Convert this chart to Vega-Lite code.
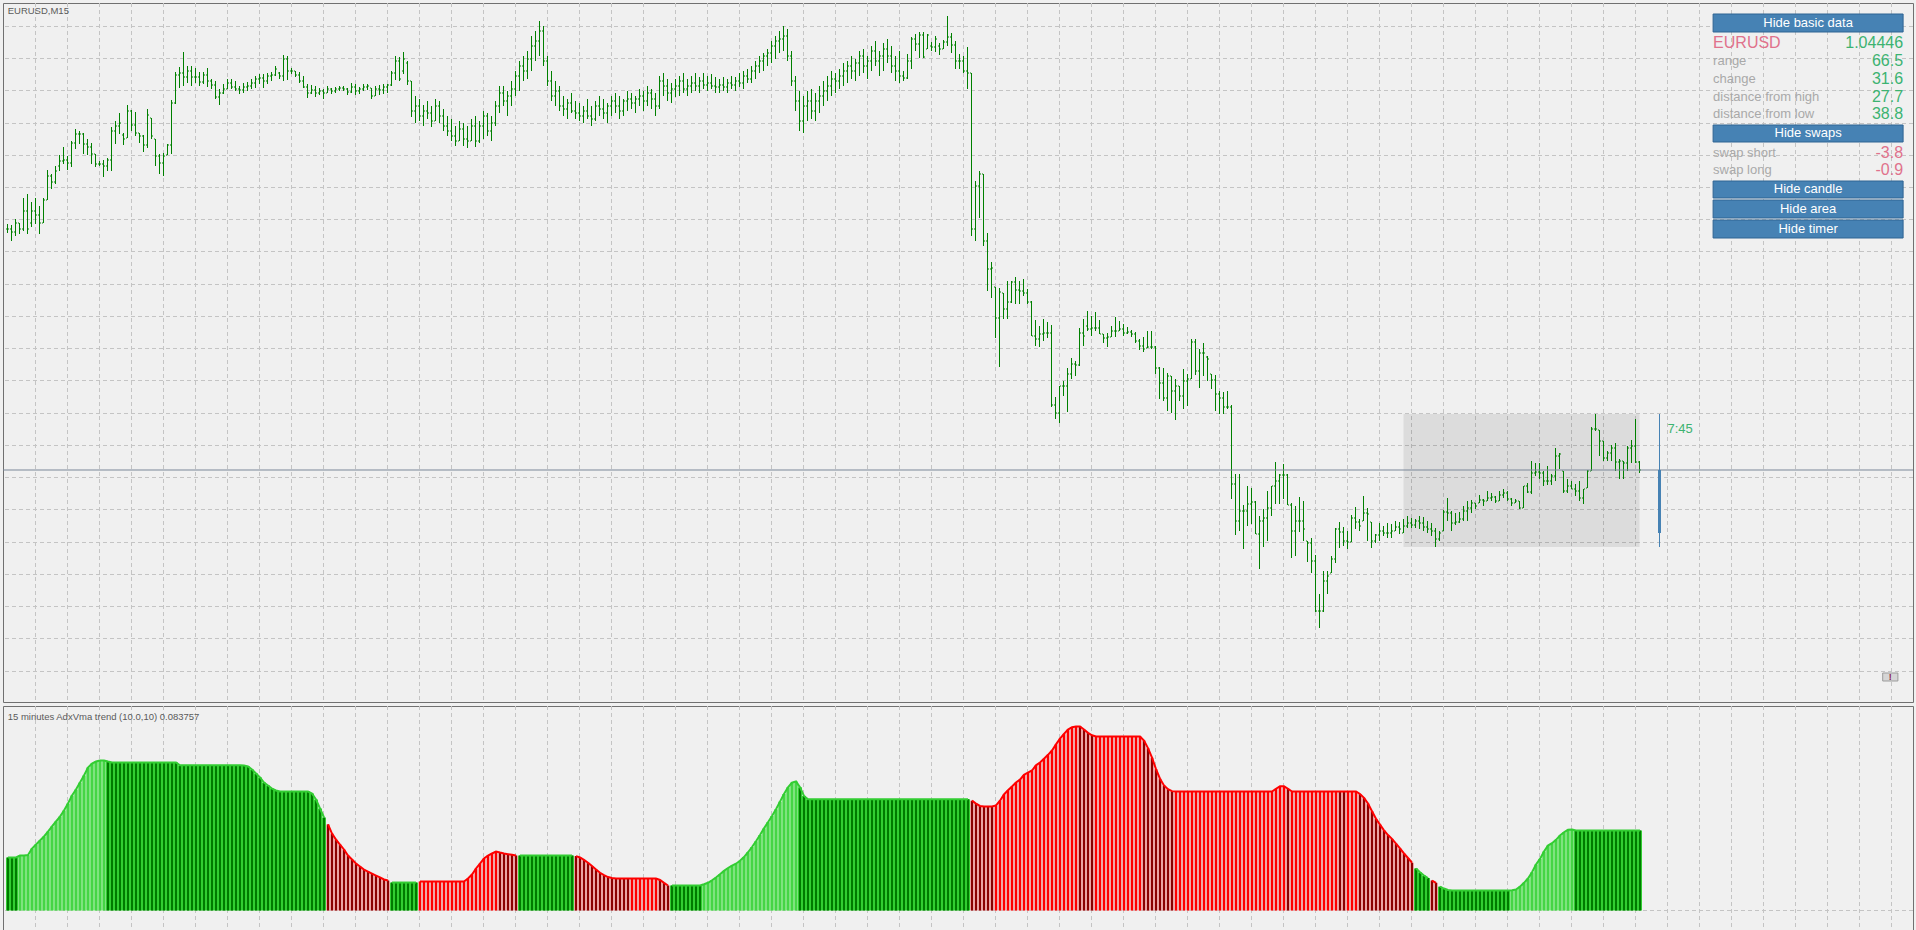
{
"$schema": "https://vega.github.io/schema/vega-lite/v6.json",
"background": "#f0f0f0",
"padding": {"left": 2, "top": 2, "right": 4, "bottom": 3},
"spacing": 2,
"config": {
  "view": {"stroke": "#707070"},
  "text": {"font": "Liberation Sans"}
},
"datasets": {
"gx": [{"i":7},{"i":15},{"i":23},{"i":31},{"i":39},{"i":47},{"i":55},{"i":63},{"i":71},{"i":79},{"i":87},{"i":95},{"i":103},{"i":111},{"i":119},{"i":127},{"i":135},{"i":143},{"i":151},{"i":159},{"i":167},{"i":175},{"i":183},{"i":191},{"i":199},{"i":207},{"i":215},{"i":223},{"i":231},{"i":239},{"i":247},{"i":255},{"i":263},{"i":271},{"i":279},{"i":287},{"i":295},{"i":303},{"i":311},{"i":319},{"i":327},{"i":335},{"i":343},{"i":351},{"i":359},{"i":367},{"i":375},{"i":383},{"i":391},{"i":399},{"i":407},{"i":415},{"i":423},{"i":431},{"i":439},{"i":447},{"i":455},{"i":463},{"i":471}],
"gy": [{"p":1.066635},{"p":1.065035},{"p":1.063435},{"p":1.061785},{"p":1.060185},{"p":1.058585},{"p":1.056985},{"p":1.055385},{"p":1.053735},{"p":1.052135},{"p":1.050535},{"p":1.048935},{"p":1.047285},{"p":1.045685},{"p":1.044085},{"p":1.042485},{"p":1.040835},{"p":1.039235},{"p":1.037635},{"p":1.036035},{"p":1.034385}],
"gz": [{"v":0}],
"day": [{"start": 349, "end": 408, "o": 1.04131, "h": 1.04726, "l": 1.04061, "c": 1.04446}],
"bars": [
{"i":0,"o":1.05651,"h":1.05676,"l":1.05631,"c":1.05651},
{"i":1,"o":1.05651,"h":1.05671,"l":1.05591,"c":1.05636},
{"i":2,"o":1.05636,"h":1.05701,"l":1.05616,"c":1.05681},
{"i":3,"o":1.05681,"h":1.05681,"l":1.05626,"c":1.05651},
{"i":4,"o":1.05651,"h":1.05806,"l":1.05641,"c":1.05741},
{"i":5,"o":1.05741,"h":1.05826,"l":1.05626,"c":1.05651},
{"i":6,"o":1.05681,"h":1.05786,"l":1.05661,"c":1.05741},
{"i":7,"o":1.05741,"h":1.05806,"l":1.05676,"c":1.05721},
{"i":8,"o":1.05721,"h":1.05766,"l":1.05626,"c":1.05681},
{"i":9,"o":1.05681,"h":1.05806,"l":1.05681,"c":1.05796},
{"i":10,"o":1.05796,"h":1.05946,"l":1.05796,"c":1.05916},
{"i":11,"o":1.05916,"h":1.05926,"l":1.05851,"c":1.05886},
{"i":12,"o":1.05886,"h":1.05966,"l":1.05876,"c":1.05941},
{"i":13,"o":1.05966,"h":1.06021,"l":1.05941,"c":1.05991},
{"i":14,"o":1.05991,"h":1.06061,"l":1.05976,"c":1.05996},
{"i":15,"o":1.05996,"h":1.06016,"l":1.05946,"c":1.05981},
{"i":16,"o":1.05981,"h":1.06091,"l":1.05961,"c":1.06081},
{"i":17,"o":1.06081,"h":1.06151,"l":1.06051,"c":1.06126},
{"i":18,"o":1.06126,"h":1.06141,"l":1.06076,"c":1.06126},
{"i":19,"o":1.06126,"h":1.06131,"l":1.06026,"c":1.06076},
{"i":20,"o":1.06076,"h":1.06101,"l":1.06021,"c":1.06061},
{"i":21,"o":1.06061,"h":1.06081,"l":1.05976,"c":1.06026},
{"i":22,"o":1.06026,"h":1.06026,"l":1.05961,"c":1.05976},
{"i":23,"o":1.05976,"h":1.05991,"l":1.05966,"c":1.05976},
{"i":24,"o":1.05976,"h":1.05996,"l":1.05911,"c":1.05966},
{"i":25,"o":1.05966,"h":1.06006,"l":1.05941,"c":1.05996},
{"i":26,"o":1.05996,"h":1.06161,"l":1.05941,"c":1.06141},
{"i":27,"o":1.06141,"h":1.06191,"l":1.06076,"c":1.06166},
{"i":28,"o":1.06166,"h":1.06231,"l":1.06126,"c":1.06181},
{"i":29,"o":1.06121,"h":1.06131,"l":1.06071,"c":1.06101},
{"i":30,"o":1.06106,"h":1.06271,"l":1.06106,"c":1.06241},
{"i":31,"o":1.06241,"h":1.06246,"l":1.06141,"c":1.06171},
{"i":32,"o":1.06171,"h":1.06236,"l":1.06116,"c":1.06131},
{"i":33,"o":1.06131,"h":1.06131,"l":1.06081,"c":1.06116},
{"i":34,"o":1.06116,"h":1.06121,"l":1.06036,"c":1.06071},
{"i":35,"o":1.06071,"h":1.06251,"l":1.06056,"c":1.06221},
{"i":36,"o":1.06206,"h":1.06206,"l":1.06101,"c":1.06116},
{"i":37,"o":1.06101,"h":1.06101,"l":1.05966,"c":1.06016},
{"i":38,"o":1.06016,"h":1.06026,"l":1.05926,"c":1.05981},
{"i":39,"o":1.05981,"h":1.06031,"l":1.05916,"c":1.06016},
{"i":40,"o":1.06021,"h":1.06076,"l":1.06021,"c":1.06071},
{"i":41,"o":1.06071,"h":1.06296,"l":1.06026,"c":1.06281},
{"i":42,"o":1.06281,"h":1.06436,"l":1.06276,"c":1.06421},
{"i":43,"o":1.06421,"h":1.06461,"l":1.06356,"c":1.06431},
{"i":44,"o":1.06431,"h":1.06536,"l":1.06366,"c":1.06411},
{"i":45,"o":1.06411,"h":1.06466,"l":1.06381,"c":1.06441},
{"i":46,"o":1.06441,"h":1.06466,"l":1.06366,"c":1.06411},
{"i":47,"o":1.06411,"h":1.06456,"l":1.06381,"c":1.06411},
{"i":48,"o":1.06411,"h":1.06436,"l":1.06366,"c":1.06386},
{"i":49,"o":1.06386,"h":1.06436,"l":1.06376,"c":1.06421},
{"i":50,"o":1.06421,"h":1.06456,"l":1.06361,"c":1.06391},
{"i":51,"o":1.06391,"h":1.06401,"l":1.06351,"c":1.06371},
{"i":52,"o":1.06371,"h":1.06391,"l":1.06301,"c":1.06311},
{"i":53,"o":1.06311,"h":1.06351,"l":1.06271,"c":1.06331},
{"i":54,"o":1.06331,"h":1.06376,"l":1.06326,"c":1.06351},
{"i":55,"o":1.06351,"h":1.06401,"l":1.06351,"c":1.06381},
{"i":56,"o":1.06381,"h":1.06401,"l":1.06351,"c":1.06361},
{"i":57,"o":1.06361,"h":1.06391,"l":1.06341,"c":1.06351},
{"i":58,"o":1.06351,"h":1.06366,"l":1.06326,"c":1.06346},
{"i":59,"o":1.06346,"h":1.06381,"l":1.06331,"c":1.06361},
{"i":60,"o":1.06361,"h":1.06386,"l":1.06341,"c":1.06366},
{"i":61,"o":1.06366,"h":1.06401,"l":1.06351,"c":1.06381},
{"i":62,"o":1.06381,"h":1.06416,"l":1.06356,"c":1.06401},
{"i":63,"o":1.06401,"h":1.06426,"l":1.06376,"c":1.06406},
{"i":64,"o":1.06406,"h":1.06426,"l":1.06356,"c":1.06391},
{"i":65,"o":1.06391,"h":1.06431,"l":1.06376,"c":1.06416},
{"i":66,"o":1.06416,"h":1.06436,"l":1.06391,"c":1.06421},
{"i":67,"o":1.06421,"h":1.06466,"l":1.06416,"c":1.06451},
{"i":68,"o":1.06431,"h":1.06436,"l":1.06401,"c":1.06416},
{"i":69,"o":1.06416,"h":1.06521,"l":1.06391,"c":1.06501},
{"i":70,"o":1.06501,"h":1.06516,"l":1.06396,"c":1.06441},
{"i":71,"o":1.06441,"h":1.06456,"l":1.06426,"c":1.06441},
{"i":72,"o":1.06441,"h":1.06441,"l":1.06411,"c":1.06421},
{"i":73,"o":1.06421,"h":1.06436,"l":1.06381,"c":1.06391},
{"i":74,"o":1.06391,"h":1.06416,"l":1.06356,"c":1.06361},
{"i":75,"o":1.06361,"h":1.06376,"l":1.06306,"c":1.06331},
{"i":76,"o":1.06331,"h":1.06371,"l":1.06326,"c":1.06346},
{"i":77,"o":1.06346,"h":1.06366,"l":1.06311,"c":1.06331},
{"i":78,"o":1.06331,"h":1.06356,"l":1.06321,"c":1.06341},
{"i":79,"o":1.06341,"h":1.06351,"l":1.06301,"c":1.06331},
{"i":80,"o":1.06331,"h":1.06366,"l":1.06331,"c":1.06351},
{"i":81,"o":1.06351,"h":1.06356,"l":1.06326,"c":1.06341},
{"i":82,"o":1.06341,"h":1.06361,"l":1.06331,"c":1.06351},
{"i":83,"o":1.06351,"h":1.06366,"l":1.06341,"c":1.06356},
{"i":84,"o":1.06356,"h":1.06366,"l":1.06341,"c":1.06351},
{"i":85,"o":1.06351,"h":1.06356,"l":1.06321,"c":1.06336},
{"i":86,"o":1.06336,"h":1.06381,"l":1.06331,"c":1.06361},
{"i":87,"o":1.06361,"h":1.06376,"l":1.06321,"c":1.06341},
{"i":88,"o":1.06341,"h":1.06361,"l":1.06326,"c":1.06351},
{"i":89,"o":1.06351,"h":1.06376,"l":1.06341,"c":1.06361},
{"i":90,"o":1.06361,"h":1.06376,"l":1.06346,"c":1.06366},
{"i":91,"o":1.06356,"h":1.06356,"l":1.06301,"c":1.06316},
{"i":92,"o":1.06316,"h":1.06366,"l":1.06316,"c":1.06351},
{"i":93,"o":1.06351,"h":1.06371,"l":1.06321,"c":1.06346},
{"i":94,"o":1.06346,"h":1.06376,"l":1.06326,"c":1.06361},
{"i":95,"o":1.06361,"h":1.06376,"l":1.06331,"c":1.06371},
{"i":96,"o":1.06371,"h":1.06441,"l":1.06366,"c":1.06431},
{"i":97,"o":1.06431,"h":1.06516,"l":1.06396,"c":1.06491},
{"i":98,"o":1.06491,"h":1.06511,"l":1.06391,"c":1.06401},
{"i":99,"o":1.06441,"h":1.06536,"l":1.06426,"c":1.06501},
{"i":100,"o":1.06481,"h":1.06491,"l":1.06371,"c":1.06391},
{"i":101,"o":1.06391,"h":1.06391,"l":1.06211,"c":1.06241},
{"i":102,"o":1.06241,"h":1.06316,"l":1.06181,"c":1.06266},
{"i":103,"o":1.06266,"h":1.06301,"l":1.06191,"c":1.06216},
{"i":104,"o":1.06216,"h":1.06271,"l":1.06166,"c":1.06241},
{"i":105,"o":1.06241,"h":1.06291,"l":1.06201,"c":1.06231},
{"i":106,"o":1.06231,"h":1.06266,"l":1.06161,"c":1.06191},
{"i":107,"o":1.06191,"h":1.06301,"l":1.06191,"c":1.06266},
{"i":108,"o":1.06266,"h":1.06291,"l":1.06181,"c":1.06216},
{"i":109,"o":1.06216,"h":1.06251,"l":1.06141,"c":1.06166},
{"i":110,"o":1.06166,"h":1.06216,"l":1.06116,"c":1.06141},
{"i":111,"o":1.06141,"h":1.06201,"l":1.06091,"c":1.06116},
{"i":112,"o":1.06116,"h":1.06166,"l":1.06066,"c":1.06091},
{"i":113,"o":1.06091,"h":1.06191,"l":1.06091,"c":1.06151},
{"i":114,"o":1.06151,"h":1.06181,"l":1.06066,"c":1.06101},
{"i":115,"o":1.06101,"h":1.06166,"l":1.06056,"c":1.06091},
{"i":116,"o":1.06091,"h":1.06201,"l":1.06091,"c":1.06166},
{"i":117,"o":1.06166,"h":1.06216,"l":1.06061,"c":1.06091},
{"i":118,"o":1.06091,"h":1.06191,"l":1.06081,"c":1.06166},
{"i":119,"o":1.06166,"h":1.06241,"l":1.06101,"c":1.06216},
{"i":120,"o":1.06216,"h":1.06231,"l":1.06116,"c":1.06141},
{"i":121,"o":1.06141,"h":1.06216,"l":1.06091,"c":1.06181},
{"i":122,"o":1.06181,"h":1.06291,"l":1.06166,"c":1.06266},
{"i":123,"o":1.06266,"h":1.06366,"l":1.06231,"c":1.06331},
{"i":124,"o":1.06331,"h":1.06366,"l":1.06266,"c":1.06291},
{"i":125,"o":1.06291,"h":1.06341,"l":1.06216,"c":1.06316},
{"i":126,"o":1.06316,"h":1.06391,"l":1.06266,"c":1.06351},
{"i":127,"o":1.06351,"h":1.06441,"l":1.06316,"c":1.06416},
{"i":128,"o":1.06416,"h":1.06491,"l":1.06341,"c":1.06466},
{"i":129,"o":1.06466,"h":1.06516,"l":1.06391,"c":1.06441},
{"i":130,"o":1.06441,"h":1.06541,"l":1.06401,"c":1.06501},
{"i":131,"o":1.06501,"h":1.06616,"l":1.06441,"c":1.06566},
{"i":132,"o":1.06566,"h":1.06641,"l":1.06491,"c":1.06591},
{"i":133,"o":1.06591,"h":1.06691,"l":1.06516,"c":1.06641},
{"i":134,"o":1.06641,"h":1.06666,"l":1.06466,"c":1.06491},
{"i":135,"o":1.06491,"h":1.06516,"l":1.06366,"c":1.06391},
{"i":136,"o":1.06391,"h":1.06441,"l":1.06291,"c":1.06316},
{"i":137,"o":1.06316,"h":1.06391,"l":1.06266,"c":1.06341},
{"i":138,"o":1.06341,"h":1.06366,"l":1.06241,"c":1.06266},
{"i":139,"o":1.06266,"h":1.06316,"l":1.06216,"c":1.06251},
{"i":140,"o":1.06251,"h":1.06301,"l":1.06201,"c":1.06281},
{"i":141,"o":1.06281,"h":1.06331,"l":1.06231,"c":1.06241},
{"i":142,"o":1.06241,"h":1.06291,"l":1.06201,"c":1.06231},
{"i":143,"o":1.06231,"h":1.06281,"l":1.06191,"c":1.06216},
{"i":144,"o":1.06216,"h":1.06266,"l":1.06181,"c":1.06241},
{"i":145,"o":1.06241,"h":1.06301,"l":1.06201,"c":1.06216},
{"i":146,"o":1.06216,"h":1.06266,"l":1.06166,"c":1.06201},
{"i":147,"o":1.06201,"h":1.06291,"l":1.06191,"c":1.06266},
{"i":148,"o":1.06266,"h":1.06316,"l":1.06216,"c":1.06251},
{"i":149,"o":1.06251,"h":1.06301,"l":1.06201,"c":1.06231},
{"i":150,"o":1.06231,"h":1.06281,"l":1.06181,"c":1.06266},
{"i":151,"o":1.06266,"h":1.06316,"l":1.06216,"c":1.06291},
{"i":152,"o":1.06291,"h":1.06331,"l":1.06231,"c":1.06266},
{"i":153,"o":1.06266,"h":1.06316,"l":1.06201,"c":1.06241},
{"i":154,"o":1.06241,"h":1.06301,"l":1.06216,"c":1.06291},
{"i":155,"o":1.06291,"h":1.06341,"l":1.06241,"c":1.06301},
{"i":156,"o":1.06301,"h":1.06331,"l":1.06251,"c":1.06281},
{"i":157,"o":1.06281,"h":1.06316,"l":1.06231,"c":1.06301},
{"i":158,"o":1.06301,"h":1.06351,"l":1.06266,"c":1.06316},
{"i":159,"o":1.06316,"h":1.06341,"l":1.06241,"c":1.06291},
{"i":160,"o":1.06291,"h":1.06366,"l":1.06266,"c":1.06331},
{"i":161,"o":1.06331,"h":1.06351,"l":1.06251,"c":1.06301},
{"i":162,"o":1.06301,"h":1.06331,"l":1.06216,"c":1.06266},
{"i":163,"o":1.06266,"h":1.06416,"l":1.06251,"c":1.06391},
{"i":164,"o":1.06391,"h":1.06431,"l":1.06316,"c":1.06366},
{"i":165,"o":1.06366,"h":1.06401,"l":1.06291,"c":1.06331},
{"i":166,"o":1.06331,"h":1.06381,"l":1.06281,"c":1.06351},
{"i":167,"o":1.06351,"h":1.06401,"l":1.06311,"c":1.06366},
{"i":168,"o":1.06366,"h":1.06416,"l":1.06316,"c":1.06391},
{"i":169,"o":1.06391,"h":1.06431,"l":1.06331,"c":1.06351},
{"i":170,"o":1.06351,"h":1.06401,"l":1.06316,"c":1.06366},
{"i":171,"o":1.06366,"h":1.06416,"l":1.06331,"c":1.06381},
{"i":172,"o":1.06381,"h":1.06431,"l":1.06341,"c":1.06366},
{"i":173,"o":1.06366,"h":1.06411,"l":1.06331,"c":1.06391},
{"i":174,"o":1.06391,"h":1.06431,"l":1.06351,"c":1.06371},
{"i":175,"o":1.06371,"h":1.06416,"l":1.06341,"c":1.06381},
{"i":176,"o":1.06381,"h":1.06426,"l":1.06351,"c":1.06366},
{"i":177,"o":1.06366,"h":1.06411,"l":1.06331,"c":1.06361},
{"i":178,"o":1.06361,"h":1.06401,"l":1.06331,"c":1.06371},
{"i":179,"o":1.06371,"h":1.06411,"l":1.06341,"c":1.06361},
{"i":180,"o":1.06361,"h":1.06401,"l":1.06331,"c":1.06381},
{"i":181,"o":1.06381,"h":1.06416,"l":1.06351,"c":1.06371},
{"i":182,"o":1.06371,"h":1.06411,"l":1.06341,"c":1.06391},
{"i":183,"o":1.06391,"h":1.06431,"l":1.06361,"c":1.06381},
{"i":184,"o":1.06381,"h":1.06441,"l":1.06351,"c":1.06416},
{"i":185,"o":1.06416,"h":1.06451,"l":1.06381,"c":1.06401},
{"i":186,"o":1.06401,"h":1.06466,"l":1.06381,"c":1.06441},
{"i":187,"o":1.06441,"h":1.06491,"l":1.06401,"c":1.06466},
{"i":188,"o":1.06466,"h":1.06516,"l":1.06431,"c":1.06491},
{"i":189,"o":1.06491,"h":1.06531,"l":1.06441,"c":1.06516},
{"i":190,"o":1.06516,"h":1.06551,"l":1.06466,"c":1.06531},
{"i":191,"o":1.06531,"h":1.06591,"l":1.06481,"c":1.06566},
{"i":192,"o":1.06566,"h":1.06616,"l":1.06501,"c":1.06591},
{"i":193,"o":1.06591,"h":1.06641,"l":1.06531,"c":1.06601},
{"i":194,"o":1.06601,"h":1.06666,"l":1.06541,"c":1.06616},
{"i":195,"o":1.06616,"h":1.06651,"l":1.06491,"c":1.06516},
{"i":196,"o":1.06516,"h":1.06541,"l":1.06366,"c":1.06391},
{"i":197,"o":1.06391,"h":1.06416,"l":1.06241,"c":1.06291},
{"i":198,"o":1.06291,"h":1.06341,"l":1.06141,"c":1.06191},
{"i":199,"o":1.06191,"h":1.06316,"l":1.06131,"c":1.06266},
{"i":200,"o":1.06266,"h":1.06341,"l":1.06191,"c":1.06291},
{"i":201,"o":1.06291,"h":1.06351,"l":1.06201,"c":1.06241},
{"i":202,"o":1.06241,"h":1.06331,"l":1.06191,"c":1.06291},
{"i":203,"o":1.06291,"h":1.06366,"l":1.06231,"c":1.06316},
{"i":204,"o":1.06316,"h":1.06391,"l":1.06266,"c":1.06341},
{"i":205,"o":1.06341,"h":1.06416,"l":1.06291,"c":1.06366},
{"i":206,"o":1.06366,"h":1.06441,"l":1.06316,"c":1.06401},
{"i":207,"o":1.06401,"h":1.06431,"l":1.06331,"c":1.06391},
{"i":208,"o":1.06391,"h":1.06451,"l":1.06351,"c":1.06416},
{"i":209,"o":1.06416,"h":1.06481,"l":1.06366,"c":1.06441},
{"i":210,"o":1.06441,"h":1.06491,"l":1.06381,"c":1.06466},
{"i":211,"o":1.06466,"h":1.06516,"l":1.06401,"c":1.06441},
{"i":212,"o":1.06441,"h":1.06501,"l":1.06391,"c":1.06481},
{"i":213,"o":1.06481,"h":1.06541,"l":1.06416,"c":1.06516},
{"i":214,"o":1.06516,"h":1.06551,"l":1.06431,"c":1.06466},
{"i":215,"o":1.06466,"h":1.06516,"l":1.06401,"c":1.06491},
{"i":216,"o":1.06491,"h":1.06566,"l":1.06441,"c":1.06541},
{"i":217,"o":1.06541,"h":1.06591,"l":1.06466,"c":1.06491},
{"i":218,"o":1.06491,"h":1.06541,"l":1.06416,"c":1.06516},
{"i":219,"o":1.06516,"h":1.06581,"l":1.06441,"c":1.06551},
{"i":220,"o":1.06551,"h":1.06601,"l":1.06481,"c":1.06516},
{"i":221,"o":1.06516,"h":1.06566,"l":1.06431,"c":1.06466},
{"i":222,"o":1.06466,"h":1.06516,"l":1.06391,"c":1.06441},
{"i":223,"o":1.06441,"h":1.06541,"l":1.06381,"c":1.06416},
{"i":224,"o":1.06416,"h":1.06441,"l":1.06391,"c":1.06406},
{"i":225,"o":1.06406,"h":1.06526,"l":1.06401,"c":1.06491},
{"i":226,"o":1.06491,"h":1.06611,"l":1.06451,"c":1.06601},
{"i":227,"o":1.06601,"h":1.06626,"l":1.06541,"c":1.06576},
{"i":228,"o":1.06576,"h":1.06636,"l":1.06506,"c":1.06621},
{"i":229,"o":1.06621,"h":1.06636,"l":1.06506,"c":1.06511},
{"i":230,"o":1.06551,"h":1.06626,"l":1.06551,"c":1.06621},
{"i":231,"o":1.06566,"h":1.06586,"l":1.06541,"c":1.06561},
{"i":232,"o":1.06561,"h":1.06616,"l":1.06536,"c":1.06601},
{"i":233,"o":1.06566,"h":1.06581,"l":1.06521,"c":1.06551},
{"i":234,"o":1.06551,"h":1.06596,"l":1.06551,"c":1.06586},
{"i":235,"o":1.06586,"h":1.06716,"l":1.06566,"c":1.06611},
{"i":236,"o":1.06611,"h":1.06631,"l":1.06531,"c":1.06571},
{"i":237,"o":1.06571,"h":1.06591,"l":1.06451,"c":1.06491},
{"i":238,"o":1.06491,"h":1.06526,"l":1.06451,"c":1.06491},
{"i":239,"o":1.06491,"h":1.06516,"l":1.06431,"c":1.06441},
{"i":240,"o":1.06441,"h":1.06561,"l":1.06351,"c":1.06431},
{"i":241,"o":1.06431,"h":1.06431,"l":1.05616,"c":1.05651},
{"i":242,"o":1.05651,"h":1.05891,"l":1.05591,"c":1.05866},
{"i":243,"o":1.05866,"h":1.05941,"l":1.05706,"c":1.05926},
{"i":244,"o":1.05926,"h":1.05926,"l":1.05566,"c":1.05591},
{"i":245,"o":1.05591,"h":1.05631,"l":1.05341,"c":1.05451},
{"i":246,"o":1.05451,"h":1.05486,"l":1.05306,"c":1.05456},
{"i":247,"o":1.05361,"h":1.05361,"l":1.05106,"c":1.05206},
{"i":248,"o":1.05206,"h":1.05356,"l":1.04961,"c":1.05336},
{"i":249,"o":1.05331,"h":1.05331,"l":1.05201,"c":1.05251},
{"i":250,"o":1.05251,"h":1.05391,"l":1.05201,"c":1.05286},
{"i":251,"o":1.05286,"h":1.05391,"l":1.05281,"c":1.05386},
{"i":252,"o":1.05386,"h":1.05411,"l":1.05276,"c":1.05346},
{"i":253,"o":1.05346,"h":1.05391,"l":1.05276,"c":1.05341},
{"i":254,"o":1.05341,"h":1.05401,"l":1.05316,"c":1.05331},
{"i":255,"o":1.05331,"h":1.05351,"l":1.05276,"c":1.05286},
{"i":256,"o":1.05286,"h":1.05291,"l":1.05116,"c":1.05116},
{"i":257,"o":1.05116,"h":1.05196,"l":1.05066,"c":1.05101},
{"i":258,"o":1.05101,"h":1.05166,"l":1.05061,"c":1.05126},
{"i":259,"o":1.05126,"h":1.05201,"l":1.05091,"c":1.05131},
{"i":260,"o":1.05131,"h":1.05186,"l":1.05106,"c":1.05131},
{"i":261,"o":1.05131,"h":1.05171,"l":1.04761,"c":1.04771},
{"i":262,"o":1.04771,"h":1.04811,"l":1.04701,"c":1.04731},
{"i":263,"o":1.04731,"h":1.04866,"l":1.04681,"c":1.04866},
{"i":264,"o":1.04866,"h":1.04891,"l":1.04816,"c":1.04866},
{"i":265,"o":1.04866,"h":1.04956,"l":1.04736,"c":1.04926},
{"i":266,"o":1.04926,"h":1.05006,"l":1.04901,"c":1.04976},
{"i":267,"o":1.04976,"h":1.04991,"l":1.04916,"c":1.04971},
{"i":268,"o":1.04971,"h":1.05156,"l":1.04966,"c":1.05131},
{"i":269,"o":1.05131,"h":1.05201,"l":1.05066,"c":1.05116},
{"i":270,"o":1.05166,"h":1.05241,"l":1.05141,"c":1.05151},
{"i":271,"o":1.05151,"h":1.05216,"l":1.05116,"c":1.05156},
{"i":272,"o":1.05156,"h":1.05236,"l":1.05141,"c":1.05156},
{"i":273,"o":1.05156,"h":1.05196,"l":1.05126,"c":1.05126},
{"i":274,"o":1.05126,"h":1.05126,"l":1.05081,"c":1.05106},
{"i":275,"o":1.05106,"h":1.05131,"l":1.05061,"c":1.05111},
{"i":276,"o":1.05111,"h":1.05166,"l":1.05111,"c":1.05141},
{"i":277,"o":1.05141,"h":1.05211,"l":1.05111,"c":1.05141},
{"i":278,"o":1.05141,"h":1.05191,"l":1.05141,"c":1.05151},
{"i":279,"o":1.05151,"h":1.05176,"l":1.05116,"c":1.05131},
{"i":280,"o":1.05131,"h":1.05161,"l":1.05126,"c":1.05136},
{"i":281,"o":1.05136,"h":1.05146,"l":1.05111,"c":1.05126},
{"i":282,"o":1.05126,"h":1.05136,"l":1.05081,"c":1.05091},
{"i":283,"o":1.05091,"h":1.05101,"l":1.05046,"c":1.05066},
{"i":284,"o":1.05066,"h":1.05111,"l":1.05036,"c":1.05051},
{"i":285,"o":1.05056,"h":1.05141,"l":1.05056,"c":1.05061},
{"i":286,"o":1.05061,"h":1.05141,"l":1.05051,"c":1.05061},
{"i":287,"o":1.05061,"h":1.05066,"l":1.04926,"c":1.04956},
{"i":288,"o":1.04956,"h":1.04961,"l":1.04801,"c":1.04881},
{"i":289,"o":1.04881,"h":1.04956,"l":1.04791,"c":1.04806},
{"i":290,"o":1.04806,"h":1.04931,"l":1.04741,"c":1.04916},
{"i":291,"o":1.04916,"h":1.04916,"l":1.04731,"c":1.04841},
{"i":292,"o":1.04841,"h":1.04901,"l":1.04696,"c":1.04866},
{"i":293,"o":1.04866,"h":1.04866,"l":1.04791,"c":1.04816},
{"i":294,"o":1.04816,"h":1.04951,"l":1.04751,"c":1.04891},
{"i":295,"o":1.04891,"h":1.04926,"l":1.04766,"c":1.04901},
{"i":296,"o":1.04901,"h":1.05101,"l":1.04901,"c":1.05086},
{"i":297,"o":1.05086,"h":1.05101,"l":1.04921,"c":1.04941},
{"i":298,"o":1.04941,"h":1.05051,"l":1.04856,"c":1.05031},
{"i":299,"o":1.05031,"h":1.05081,"l":1.04916,"c":1.05031},
{"i":300,"o":1.05011,"h":1.05016,"l":1.04891,"c":1.05001},
{"i":301,"o":1.04926,"h":1.04926,"l":1.04851,"c":1.04896},
{"i":302,"o":1.04896,"h":1.04921,"l":1.04741,"c":1.04826},
{"i":303,"o":1.04826,"h":1.04841,"l":1.04726,"c":1.04806},
{"i":304,"o":1.04806,"h":1.04836,"l":1.04726,"c":1.04761},
{"i":305,"o":1.04761,"h":1.04841,"l":1.04751,"c":1.04761},
{"i":306,"o":1.04761,"h":1.04771,"l":1.04301,"c":1.04376},
{"i":307,"o":1.04376,"h":1.04426,"l":1.04121,"c":1.04191},
{"i":308,"o":1.04191,"h":1.04426,"l":1.04141,"c":1.04241},
{"i":309,"o":1.04241,"h":1.04271,"l":1.04051,"c":1.04241},
{"i":310,"o":1.04241,"h":1.04366,"l":1.04166,"c":1.04276},
{"i":311,"o":1.04276,"h":1.04356,"l":1.04176,"c":1.04286},
{"i":312,"o":1.04286,"h":1.04291,"l":1.04126,"c":1.04126},
{"i":313,"o":1.04126,"h":1.04216,"l":1.03951,"c":1.04191},
{"i":314,"o":1.04191,"h":1.04251,"l":1.04061,"c":1.04206},
{"i":315,"o":1.04206,"h":1.04341,"l":1.04091,"c":1.04256},
{"i":316,"o":1.04256,"h":1.04366,"l":1.04216,"c":1.04366},
{"i":317,"o":1.04366,"h":1.04486,"l":1.04276,"c":1.04391},
{"i":318,"o":1.04391,"h":1.04426,"l":1.04276,"c":1.04421},
{"i":319,"o":1.04421,"h":1.04476,"l":1.04301,"c":1.04421},
{"i":320,"o":1.04421,"h":1.04426,"l":1.04271,"c":1.04271},
{"i":321,"o":1.04271,"h":1.04281,"l":1.04006,"c":1.04141},
{"i":322,"o":1.04141,"h":1.04266,"l":1.04016,"c":1.04191},
{"i":323,"o":1.04191,"h":1.04311,"l":1.04136,"c":1.04191},
{"i":324,"o":1.04191,"h":1.04291,"l":1.04091,"c":1.04151},
{"i":325,"o":1.04091,"h":1.04091,"l":1.03986,"c":1.04081},
{"i":326,"o":1.04081,"h":1.04106,"l":1.03931,"c":1.03991},
{"i":327,"o":1.03991,"h":1.04021,"l":1.03736,"c":1.03741},
{"i":328,"o":1.03741,"h":1.03826,"l":1.03656,"c":1.03741},
{"i":329,"o":1.03741,"h":1.03941,"l":1.03736,"c":1.03891},
{"i":330,"o":1.03891,"h":1.03941,"l":1.03826,"c":1.03916},
{"i":331,"o":1.03931,"h":1.04016,"l":1.03931,"c":1.04001},
{"i":332,"o":1.04001,"h":1.04156,"l":1.03981,"c":1.04151},
{"i":333,"o":1.04151,"h":1.04186,"l":1.04056,"c":1.04136},
{"i":334,"o":1.04136,"h":1.04161,"l":1.04066,"c":1.04091},
{"i":335,"o":1.04091,"h":1.04141,"l":1.04051,"c":1.04086},
{"i":336,"o":1.04086,"h":1.04221,"l":1.04086,"c":1.04206},
{"i":337,"o":1.04206,"h":1.04261,"l":1.04151,"c":1.04186},
{"i":338,"o":1.04186,"h":1.04201,"l":1.04141,"c":1.04166},
{"i":339,"o":1.04191,"h":1.04316,"l":1.04191,"c":1.04231},
{"i":340,"o":1.04231,"h":1.04256,"l":1.04091,"c":1.04226},
{"i":341,"o":1.04186,"h":1.04186,"l":1.04056,"c":1.04091},
{"i":342,"o":1.04091,"h":1.04126,"l":1.04081,"c":1.04121},
{"i":343,"o":1.04121,"h":1.04181,"l":1.04091,"c":1.04141},
{"i":344,"o":1.04141,"h":1.04166,"l":1.04116,"c":1.04131},
{"i":345,"o":1.04131,"h":1.04181,"l":1.04106,"c":1.04131},
{"i":346,"o":1.04131,"h":1.04176,"l":1.04106,"c":1.04141},
{"i":347,"o":1.04141,"h":1.04191,"l":1.04141,"c":1.04161},
{"i":348,"o":1.04161,"h":1.04186,"l":1.04126,"c":1.04151},
{"i":349,"o":1.04131,"h":1.04201,"l":1.04131,"c":1.04166},
{"i":350,"o":1.04166,"h":1.04216,"l":1.04156,"c":1.04181},
{"i":351,"o":1.04181,"h":1.04206,"l":1.04156,"c":1.04171},
{"i":352,"o":1.04171,"h":1.04201,"l":1.04156,"c":1.04191},
{"i":353,"o":1.04191,"h":1.04216,"l":1.04151,"c":1.04181},
{"i":354,"o":1.04181,"h":1.04211,"l":1.04141,"c":1.04161},
{"i":355,"o":1.04161,"h":1.04191,"l":1.04131,"c":1.04151},
{"i":356,"o":1.04151,"h":1.04181,"l":1.04116,"c":1.04141},
{"i":357,"o":1.04141,"h":1.04156,"l":1.04061,"c":1.04101},
{"i":358,"o":1.04101,"h":1.04141,"l":1.04091,"c":1.04131},
{"i":359,"o":1.04141,"h":1.04246,"l":1.04141,"c":1.04236},
{"i":360,"o":1.04236,"h":1.04306,"l":1.04191,"c":1.04231},
{"i":361,"o":1.04231,"h":1.04241,"l":1.04141,"c":1.04181},
{"i":362,"o":1.04181,"h":1.04231,"l":1.04171,"c":1.04186},
{"i":363,"o":1.04186,"h":1.04236,"l":1.04181,"c":1.04201},
{"i":364,"o":1.04201,"h":1.04266,"l":1.04191,"c":1.04241},
{"i":365,"o":1.04241,"h":1.04291,"l":1.04191,"c":1.04256},
{"i":366,"o":1.04256,"h":1.04296,"l":1.04231,"c":1.04281},
{"i":367,"o":1.04281,"h":1.04281,"l":1.04251,"c":1.04266},
{"i":368,"o":1.04281,"h":1.04321,"l":1.04281,"c":1.04296},
{"i":369,"o":1.04296,"h":1.04301,"l":1.04266,"c":1.04291},
{"i":370,"o":1.04291,"h":1.04341,"l":1.04291,"c":1.04306},
{"i":371,"o":1.04306,"h":1.04331,"l":1.04291,"c":1.04311},
{"i":372,"o":1.04311,"h":1.04316,"l":1.04281,"c":1.04291},
{"i":373,"o":1.04291,"h":1.04341,"l":1.04291,"c":1.04321},
{"i":374,"o":1.04321,"h":1.04351,"l":1.04306,"c":1.04331},
{"i":375,"o":1.04331,"h":1.04341,"l":1.04291,"c":1.04301},
{"i":376,"o":1.04301,"h":1.04306,"l":1.04266,"c":1.04281},
{"i":377,"o":1.04281,"h":1.04301,"l":1.04281,"c":1.04291},
{"i":378,"o":1.04291,"h":1.04291,"l":1.04251,"c":1.04256},
{"i":379,"o":1.04256,"h":1.04366,"l":1.04256,"c":1.04366},
{"i":380,"o":1.04366,"h":1.04381,"l":1.04331,"c":1.04336},
{"i":381,"o":1.04336,"h":1.04491,"l":1.04326,"c":1.04431},
{"i":382,"o":1.04431,"h":1.04481,"l":1.04416,"c":1.04436},
{"i":383,"o":1.04436,"h":1.04481,"l":1.04401,"c":1.04431},
{"i":384,"o":1.04431,"h":1.04441,"l":1.04366,"c":1.04391},
{"i":385,"o":1.04391,"h":1.04466,"l":1.04371,"c":1.04391},
{"i":386,"o":1.04391,"h":1.04426,"l":1.04371,"c":1.04416},
{"i":387,"o":1.04416,"h":1.04556,"l":1.04391,"c":1.04516},
{"i":388,"o":1.04516,"h":1.04531,"l":1.04451,"c":1.04526},
{"i":389,"o":1.04441,"h":1.04441,"l":1.04331,"c":1.04341},
{"i":390,"o":1.04341,"h":1.04401,"l":1.04331,"c":1.04366},
{"i":391,"o":1.04366,"h":1.04391,"l":1.04351,"c":1.04351},
{"i":392,"o":1.04351,"h":1.04376,"l":1.04316,"c":1.04341},
{"i":393,"o":1.04341,"h":1.04391,"l":1.04291,"c":1.04306},
{"i":394,"o":1.04306,"h":1.04351,"l":1.04276,"c":1.04351},
{"i":395,"o":1.04356,"h":1.04446,"l":1.04356,"c":1.04441},
{"i":396,"o":1.04441,"h":1.04661,"l":1.04441,"c":1.04651},
{"i":397,"o":1.04651,"h":1.04726,"l":1.04641,"c":1.04651},
{"i":398,"o":1.04646,"h":1.04646,"l":1.04516,"c":1.04591},
{"i":399,"o":1.04591,"h":1.04591,"l":1.04491,"c":1.04506},
{"i":400,"o":1.04506,"h":1.04541,"l":1.04491,"c":1.04531},
{"i":401,"o":1.04531,"h":1.04571,"l":1.04491,"c":1.04556},
{"i":402,"o":1.04556,"h":1.04581,"l":1.04441,"c":1.04486},
{"i":403,"o":1.04486,"h":1.04501,"l":1.04401,"c":1.04491},
{"i":404,"o":1.04491,"h":1.04491,"l":1.04401,"c":1.04481},
{"i":405,"o":1.04481,"h":1.04566,"l":1.04441,"c":1.04556},
{"i":406,"o":1.04556,"h":1.04596,"l":1.04481,"c":1.04566},
{"i":407,"o":1.04566,"h":1.04701,"l":1.04481,"c":1.04486},
{"i":408,"o":1.04486,"h":1.04491,"l":1.04431,"c":1.04446}
],
"ind": [
{"i":0,"v":0.0555,"t":"gd","s":0},{"i":1,"v":0.0555,"t":"gd","s":0},{"i":2,"v":0.0555,"t":"gd","s":0},
{"i":3,"v":0.0576,"t":"gu","s":0},{"i":4,"v":0.0576,"t":"gu","s":0},{"i":5,"v":0.058,"t":"gu","s":0},
{"i":6,"v":0.0649,"t":"gu","s":0},{"i":7,"v":0.0691,"t":"gu","s":0},{"i":8,"v":0.0733,"t":"gu","s":0},
{"i":9,"v":0.0775,"t":"gu","s":0},{"i":10,"v":0.0827,"t":"gu","s":0},{"i":11,"v":0.088,"t":"gu","s":0},
{"i":12,"v":0.0932,"t":"gu","s":0},{"i":13,"v":0.0984,"t":"gu","s":0},{"i":14,"v":0.1047,"t":"gu","s":0},
{"i":15,"v":0.112,"t":"gu","s":0},{"i":16,"v":0.1204,"t":"gu","s":0},{"i":17,"v":0.1267,"t":"gu","s":0},
{"i":18,"v":0.134,"t":"gu","s":0},{"i":19,"v":0.1414,"t":"gu","s":0},{"i":20,"v":0.1497,"t":"gu","s":0},
{"i":21,"v":0.1539,"t":"gu","s":0},{"i":22,"v":0.156,"t":"gu","s":0},{"i":23,"v":0.1571,"t":"gu","s":0},
{"i":24,"v":0.1571,"t":"gu","s":0},{"i":25,"v":0.156,"t":"gd","s":0},
{"i":26,"v":0.155,"t":"gd","s":0},{"i":27,"v":0.155,"t":"gd","s":0},{"i":28,"v":0.155,"t":"gd","s":0},
{"i":29,"v":0.155,"t":"gd","s":0},{"i":30,"v":0.155,"t":"gd","s":0},{"i":31,"v":0.155,"t":"gd","s":0},
{"i":32,"v":0.155,"t":"gd","s":0},{"i":33,"v":0.155,"t":"gd","s":0},{"i":34,"v":0.155,"t":"gd","s":0},
{"i":35,"v":0.155,"t":"gd","s":0},{"i":36,"v":0.155,"t":"gd","s":0},{"i":37,"v":0.155,"t":"gd","s":0},
{"i":38,"v":0.155,"t":"gd","s":0},{"i":39,"v":0.155,"t":"gd","s":0},{"i":40,"v":0.155,"t":"gd","s":0},
{"i":41,"v":0.155,"t":"gd","s":0},{"i":42,"v":0.155,"t":"gd","s":0},
{"i":43,"v":0.152,"t":"gd","s":0},{"i":44,"v":0.152,"t":"gd","s":0},{"i":45,"v":0.152,"t":"gd","s":0},
{"i":46,"v":0.152,"t":"gd","s":0},{"i":47,"v":0.152,"t":"gd","s":0},{"i":48,"v":0.152,"t":"gd","s":0},
{"i":49,"v":0.152,"t":"gd","s":0},{"i":50,"v":0.152,"t":"gd","s":0},{"i":51,"v":0.152,"t":"gd","s":0},
{"i":52,"v":0.152,"t":"gd","s":0},{"i":53,"v":0.152,"t":"gd","s":0},{"i":54,"v":0.152,"t":"gd","s":0},
{"i":55,"v":0.152,"t":"gd","s":0},{"i":56,"v":0.152,"t":"gd","s":0},{"i":57,"v":0.152,"t":"gd","s":0},
{"i":58,"v":0.152,"t":"gd","s":0},{"i":59,"v":0.1518,"t":"gd","s":0},{"i":60,"v":0.1508,"t":"gd","s":0},
{"i":61,"v":0.1476,"t":"gd","s":0},{"i":62,"v":0.1435,"t":"gd","s":0},{"i":63,"v":0.1393,"t":"gd","s":0},
{"i":64,"v":0.134,"t":"gd","s":0},{"i":65,"v":0.1309,"t":"gd","s":0},{"i":66,"v":0.1277,"t":"gd","s":0},
{"i":67,"v":0.1257,"t":"gd","s":0},{"i":68,"v":0.1246,"t":"gd","s":0},{"i":69,"v":0.1246,"t":"gd","s":0},
{"i":70,"v":0.1246,"t":"gd","s":0},{"i":71,"v":0.1246,"t":"gd","s":0},{"i":72,"v":0.1246,"t":"gd","s":0},
{"i":73,"v":0.1246,"t":"gd","s":0},{"i":74,"v":0.1246,"t":"gd","s":0},{"i":75,"v":0.1246,"t":"gd","s":0},
{"i":76,"v":0.1225,"t":"gd","s":0},{"i":77,"v":0.1162,"t":"gd","s":0},{"i":78,"v":0.1068,"t":"gd","s":0},
{"i":79,"v":0.0974,"t":"gd","s":0},
{"i":80,"v":0.0901,"t":"rd","s":1},{"i":81,"v":0.0806,"t":"rd","s":1},{"i":82,"v":0.0743,"t":"rd","s":1},
{"i":83,"v":0.0691,"t":"rd","s":1},{"i":84,"v":0.0639,"t":"rd","s":1},{"i":85,"v":0.0576,"t":"rd","s":1},
{"i":86,"v":0.0534,"t":"rd","s":1},{"i":87,"v":0.0492,"t":"rd","s":1},{"i":88,"v":0.0461,"t":"rd","s":1},
{"i":89,"v":0.0429,"t":"rd","s":1},{"i":90,"v":0.0408,"t":"rd","s":1},{"i":91,"v":0.0387,"t":"rd","s":1},
{"i":92,"v":0.0366,"t":"rd","s":1},{"i":93,"v":0.0346,"t":"rd","s":1},{"i":94,"v":0.0325,"t":"rd","s":1},
{"i":95,"v":0.0314,"t":"rd","s":1},
{"i":96,"v":0.0293,"t":"gd","s":2},{"i":97,"v":0.0293,"t":"gd","s":2},{"i":98,"v":0.0293,"t":"gd","s":2},
{"i":99,"v":0.0293,"t":"gd","s":2},{"i":100,"v":0.0293,"t":"gd","s":2},{"i":101,"v":0.0293,"t":"gd","s":2},
{"i":102,"v":0.0293,"t":"gd","s":2},
{"i":103,"v":0.0304,"t":"ru","s":3},{"i":104,"v":0.0304,"t":"ru","s":3},{"i":105,"v":0.0304,"t":"ru","s":3},
{"i":106,"v":0.0304,"t":"ru","s":3},{"i":107,"v":0.0304,"t":"ru","s":3},{"i":108,"v":0.0304,"t":"ru","s":3},
{"i":109,"v":0.0304,"t":"ru","s":3},{"i":110,"v":0.0304,"t":"ru","s":3},{"i":111,"v":0.0304,"t":"ru","s":3},
{"i":112,"v":0.0304,"t":"ru","s":3},{"i":113,"v":0.0304,"t":"ru","s":3},{"i":114,"v":0.0304,"t":"ru","s":3},
{"i":115,"v":0.0335,"t":"ru","s":3},{"i":116,"v":0.0377,"t":"ru","s":3},{"i":117,"v":0.044,"t":"ru","s":3},
{"i":118,"v":0.0492,"t":"ru","s":3},{"i":119,"v":0.0545,"t":"ru","s":3},{"i":120,"v":0.0576,"t":"ru","s":3},
{"i":121,"v":0.0597,"t":"ru","s":3},{"i":122,"v":0.0618,"t":"ru","s":3},
{"i":123,"v":0.0607,"t":"rd","s":3},{"i":124,"v":0.0597,"t":"rd","s":3},{"i":125,"v":0.059,"t":"rd","s":3},
{"i":126,"v":0.0583,"t":"rd","s":3},{"i":127,"v":0.0576,"t":"rd","s":3},
{"i":128,"v":0.0576,"t":"gd","s":4},{"i":129,"v":0.0576,"t":"gd","s":4},{"i":130,"v":0.0576,"t":"gd","s":4},
{"i":131,"v":0.0576,"t":"gd","s":4},{"i":132,"v":0.0576,"t":"gd","s":4},{"i":133,"v":0.0576,"t":"gd","s":4},
{"i":134,"v":0.0576,"t":"gd","s":4},{"i":135,"v":0.0576,"t":"gd","s":4},{"i":136,"v":0.0576,"t":"gd","s":4},
{"i":137,"v":0.0576,"t":"gd","s":4},{"i":138,"v":0.0576,"t":"gd","s":4},{"i":139,"v":0.0576,"t":"gd","s":4},
{"i":140,"v":0.0576,"t":"gd","s":4},{"i":141,"v":0.0576,"t":"gd","s":4},
{"i":142,"v":0.057,"t":"rd","s":5},{"i":143,"v":0.0555,"t":"rd","s":5},{"i":144,"v":0.053,"t":"rd","s":5},
{"i":145,"v":0.05,"t":"rd","s":5},{"i":146,"v":0.0465,"t":"rd","s":5},{"i":147,"v":0.043,"t":"rd","s":5},
{"i":148,"v":0.0395,"t":"rd","s":5},{"i":149,"v":0.037,"t":"rd","s":5},{"i":150,"v":0.035,"t":"rd","s":5},
{"i":151,"v":0.034,"t":"rd","s":5},{"i":152,"v":0.0335,"t":"rd","s":5},{"i":153,"v":0.0335,"t":"rd","s":5},
{"i":154,"v":0.0335,"t":"rd","s":5},{"i":155,"v":0.0335,"t":"rd","s":5},{"i":156,"v":0.0335,"t":"ru","s":5},
{"i":157,"v":0.0335,"t":"ru","s":5},{"i":158,"v":0.0335,"t":"ru","s":5},{"i":159,"v":0.0335,"t":"ru","s":5},
{"i":160,"v":0.0335,"t":"ru","s":5},{"i":161,"v":0.0335,"t":"ru","s":5},{"i":162,"v":0.0335,"t":"ru","s":5},
{"i":163,"v":0.032,"t":"rd","s":5},{"i":164,"v":0.029,"t":"rd","s":5},{"i":165,"v":0.0262,"t":"rd","s":5},
{"i":166,"v":0.0262,"t":"gd","s":6},{"i":167,"v":0.0262,"t":"gd","s":6},{"i":168,"v":0.0262,"t":"gd","s":6},
{"i":169,"v":0.0262,"t":"gd","s":6},{"i":170,"v":0.0262,"t":"gd","s":6},{"i":171,"v":0.0262,"t":"gd","s":6},
{"i":172,"v":0.0262,"t":"gd","s":6},{"i":173,"v":0.0262,"t":"gd","s":6},
{"i":174,"v":0.0275,"t":"gu","s":6},{"i":175,"v":0.029,"t":"gu","s":6},{"i":176,"v":0.0315,"t":"gu","s":6},
{"i":177,"v":0.0345,"t":"gu","s":6},{"i":178,"v":0.038,"t":"gu","s":6},{"i":179,"v":0.0415,"t":"gu","s":6},
{"i":180,"v":0.0445,"t":"gu","s":6},{"i":181,"v":0.047,"t":"gu","s":6},{"i":182,"v":0.049,"t":"gu","s":6},
{"i":183,"v":0.052,"t":"gu","s":6},{"i":184,"v":0.056,"t":"gu","s":6},{"i":185,"v":0.061,"t":"gu","s":6},
{"i":186,"v":0.0665,"t":"gu","s":6},{"i":187,"v":0.0725,"t":"gu","s":6},{"i":188,"v":0.079,"t":"gu","s":6},
{"i":189,"v":0.086,"t":"gu","s":6},{"i":190,"v":0.0925,"t":"gu","s":6},{"i":191,"v":0.099,"t":"gu","s":6},
{"i":192,"v":0.106,"t":"gu","s":6},{"i":193,"v":0.114,"t":"gu","s":6},{"i":194,"v":0.122,"t":"gu","s":6},
{"i":195,"v":0.129,"t":"gu","s":6},{"i":196,"v":0.134,"t":"gu","s":6},{"i":197,"v":0.1351,"t":"gu","s":6},
{"i":198,"v":0.129,"t":"gd","s":6},{"i":199,"v":0.12,"t":"gd","s":6},
{"i":200,"v":0.1165,"t":"gd","s":6},{"i":201,"v":0.1165,"t":"gd","s":6},{"i":202,"v":0.1165,"t":"gd","s":6},
{"i":203,"v":0.1165,"t":"gd","s":6},{"i":204,"v":0.1165,"t":"gd","s":6},{"i":205,"v":0.1165,"t":"gd","s":6},
{"i":206,"v":0.1165,"t":"gd","s":6},{"i":207,"v":0.1165,"t":"gd","s":6},{"i":208,"v":0.1165,"t":"gd","s":6},
{"i":209,"v":0.1165,"t":"gd","s":6},{"i":210,"v":0.1165,"t":"gd","s":6},{"i":211,"v":0.1165,"t":"gd","s":6},
{"i":212,"v":0.1165,"t":"gd","s":6},{"i":213,"v":0.1165,"t":"gd","s":6},{"i":214,"v":0.1165,"t":"gd","s":6},
{"i":215,"v":0.1165,"t":"gd","s":6},{"i":216,"v":0.1165,"t":"gd","s":6},{"i":217,"v":0.1165,"t":"gd","s":6},
{"i":218,"v":0.1165,"t":"gd","s":6},{"i":219,"v":0.1165,"t":"gd","s":6},{"i":220,"v":0.1165,"t":"gd","s":6},
{"i":221,"v":0.1165,"t":"gd","s":6},{"i":222,"v":0.1165,"t":"gd","s":6},{"i":223,"v":0.1165,"t":"gd","s":6},
{"i":224,"v":0.1165,"t":"gd","s":6},{"i":225,"v":0.1165,"t":"gd","s":6},{"i":226,"v":0.1165,"t":"gd","s":6},
{"i":227,"v":0.1165,"t":"gd","s":6},{"i":228,"v":0.1165,"t":"gd","s":6},{"i":229,"v":0.1165,"t":"gd","s":6},
{"i":230,"v":0.1165,"t":"gd","s":6},{"i":231,"v":0.1165,"t":"gd","s":6},{"i":232,"v":0.1165,"t":"gd","s":6},
{"i":233,"v":0.1165,"t":"gd","s":6},{"i":234,"v":0.1165,"t":"gd","s":6},{"i":235,"v":0.1165,"t":"gd","s":6},
{"i":236,"v":0.1165,"t":"gd","s":6},{"i":237,"v":0.1165,"t":"gd","s":6},{"i":238,"v":0.1165,"t":"gd","s":6},
{"i":239,"v":0.1165,"t":"gd","s":6},{"i":240,"v":0.1165,"t":"gd","s":6},
{"i":241,"v":0.115,"t":"rd","s":7},{"i":242,"v":0.112,"t":"rd","s":7},{"i":243,"v":0.1095,"t":"rd","s":7},
{"i":244,"v":0.1089,"t":"rd","s":7},{"i":245,"v":0.1089,"t":"rd","s":7},{"i":246,"v":0.1089,"t":"rd","s":7},
{"i":247,"v":0.11,"t":"ru","s":7},{"i":248,"v":0.115,"t":"ru","s":7},{"i":249,"v":0.1215,"t":"ru","s":7},
{"i":250,"v":0.126,"t":"ru","s":7},{"i":251,"v":0.1298,"t":"ru","s":7},{"i":252,"v":0.134,"t":"ru","s":7},
{"i":253,"v":0.137,"t":"ru","s":7},{"i":254,"v":0.142,"t":"ru","s":7},{"i":255,"v":0.1445,"t":"ru","s":7},
{"i":256,"v":0.1466,"t":"ru","s":7},{"i":257,"v":0.152,"t":"ru","s":7},{"i":258,"v":0.155,"t":"ru","s":7},
{"i":259,"v":0.159,"t":"ru","s":7},{"i":260,"v":0.163,"t":"ru","s":7},{"i":261,"v":0.1675,"t":"ru","s":7},
{"i":262,"v":0.174,"t":"ru","s":7},{"i":263,"v":0.18,"t":"ru","s":7},{"i":264,"v":0.185,"t":"ru","s":7},
{"i":265,"v":0.1895,"t":"ru","s":7},{"i":266,"v":0.192,"t":"ru","s":7},{"i":267,"v":0.1927,"t":"ru","s":7},
{"i":268,"v":0.1927,"t":"rd","s":7},{"i":269,"v":0.1895,"t":"rd","s":7},{"i":270,"v":0.186,"t":"rd","s":7},
{"i":271,"v":0.1835,"t":"rd","s":7},
{"i":272,"v":0.1822,"t":"ru","s":7},{"i":273,"v":0.1822,"t":"ru","s":7},{"i":274,"v":0.1822,"t":"ru","s":7},
{"i":275,"v":0.1822,"t":"ru","s":7},{"i":276,"v":0.1822,"t":"ru","s":7},{"i":277,"v":0.1822,"t":"ru","s":7},
{"i":278,"v":0.1822,"t":"ru","s":7},{"i":279,"v":0.1822,"t":"ru","s":7},{"i":280,"v":0.1822,"t":"ru","s":7},
{"i":281,"v":0.1822,"t":"ru","s":7},{"i":282,"v":0.1822,"t":"ru","s":7},{"i":283,"v":0.1822,"t":"ru","s":7},
{"i":284,"v":0.178,"t":"rd","s":7},{"i":285,"v":0.17,"t":"rd","s":7},{"i":286,"v":0.16,"t":"rd","s":7},
{"i":287,"v":0.148,"t":"rd","s":7},{"i":288,"v":0.138,"t":"rd","s":7},{"i":289,"v":0.131,"t":"rd","s":7},
{"i":290,"v":0.127,"t":"rd","s":7},{"i":291,"v":0.125,"t":"rd","s":7},
{"i":292,"v":0.1246,"t":"ru","s":7},{"i":293,"v":0.1246,"t":"ru","s":7},{"i":294,"v":0.1246,"t":"ru","s":7},
{"i":295,"v":0.1246,"t":"ru","s":7},{"i":296,"v":0.1246,"t":"ru","s":7},{"i":297,"v":0.1246,"t":"ru","s":7},
{"i":298,"v":0.1246,"t":"ru","s":7},{"i":299,"v":0.1246,"t":"ru","s":7},{"i":300,"v":0.1246,"t":"ru","s":7},
{"i":301,"v":0.1246,"t":"ru","s":7},{"i":302,"v":0.1246,"t":"ru","s":7},{"i":303,"v":0.1246,"t":"ru","s":7},
{"i":304,"v":0.1246,"t":"ru","s":7},{"i":305,"v":0.1246,"t":"ru","s":7},{"i":306,"v":0.1246,"t":"ru","s":7},
{"i":307,"v":0.1246,"t":"ru","s":7},{"i":308,"v":0.1246,"t":"ru","s":7},{"i":309,"v":0.1246,"t":"ru","s":7},
{"i":310,"v":0.1246,"t":"ru","s":7},{"i":311,"v":0.1246,"t":"ru","s":7},{"i":312,"v":0.1246,"t":"ru","s":7},
{"i":313,"v":0.1246,"t":"ru","s":7},{"i":314,"v":0.1246,"t":"ru","s":7},{"i":315,"v":0.1246,"t":"ru","s":7},
{"i":316,"v":0.1246,"t":"ru","s":7},{"i":317,"v":0.1275,"t":"ru","s":7},{"i":318,"v":0.13,"t":"ru","s":7},
{"i":319,"v":0.13,"t":"ru","s":7},{"i":320,"v":0.1275,"t":"rd","s":7},
{"i":321,"v":0.1246,"t":"ru","s":7},{"i":322,"v":0.1246,"t":"ru","s":7},{"i":323,"v":0.1246,"t":"ru","s":7},
{"i":324,"v":0.1246,"t":"ru","s":7},{"i":325,"v":0.1246,"t":"ru","s":7},{"i":326,"v":0.1246,"t":"ru","s":7},
{"i":327,"v":0.1246,"t":"ru","s":7},{"i":328,"v":0.1246,"t":"ru","s":7},{"i":329,"v":0.1246,"t":"ru","s":7},
{"i":330,"v":0.1246,"t":"ru","s":7},{"i":331,"v":0.1246,"t":"ru","s":7},{"i":332,"v":0.1246,"t":"ru","s":7},
{"i":333,"v":0.1246,"t":"rd","s":7},{"i":334,"v":0.1246,"t":"rd","s":7},{"i":335,"v":0.1246,"t":"ru","s":7},
{"i":336,"v":0.1246,"t":"ru","s":7},{"i":337,"v":0.1246,"t":"ru","s":7},
{"i":338,"v":0.122,"t":"rd","s":7},{"i":339,"v":0.118,"t":"rd","s":7},{"i":340,"v":0.112,"t":"rd","s":7},
{"i":341,"v":0.104,"t":"rd","s":7},{"i":342,"v":0.096,"t":"rd","s":7},{"i":343,"v":0.09,"t":"rd","s":7},
{"i":344,"v":0.084,"t":"rd","s":7},{"i":345,"v":0.079,"t":"rd","s":7},{"i":346,"v":0.075,"t":"rd","s":7},
{"i":347,"v":0.07,"t":"rd","s":7},{"i":348,"v":0.065,"t":"rd","s":7},{"i":349,"v":0.0597,"t":"rd","s":7},
{"i":350,"v":0.055,"t":"rd","s":7},{"i":351,"v":0.05,"t":"rd","s":7},
{"i":352,"v":0.044,"t":"gd","s":8},{"i":353,"v":0.04,"t":"gd","s":8},{"i":354,"v":0.0366,"t":"gd","s":8},
{"i":355,"v":0.034,"t":"gd","s":8},
{"i":356,"v":0.0314,"t":"rd","s":9},{"i":357,"v":0.029,"t":"rd","s":9},
{"i":358,"v":0.025,"t":"gd","s":10},{"i":359,"v":0.023,"t":"gd","s":10},{"i":360,"v":0.0215,"t":"gd","s":10},
{"i":361,"v":0.0209,"t":"gd","s":10},{"i":362,"v":0.0209,"t":"gd","s":10},{"i":363,"v":0.0209,"t":"gd","s":10},
{"i":364,"v":0.0209,"t":"gd","s":10},{"i":365,"v":0.0209,"t":"gd","s":10},{"i":366,"v":0.0209,"t":"gd","s":10},
{"i":367,"v":0.0209,"t":"gd","s":10},{"i":368,"v":0.0209,"t":"gd","s":10},{"i":369,"v":0.0209,"t":"gd","s":10},
{"i":370,"v":0.0209,"t":"gd","s":10},{"i":371,"v":0.0209,"t":"gd","s":10},{"i":372,"v":0.0209,"t":"gd","s":10},
{"i":373,"v":0.0209,"t":"gd","s":10},{"i":374,"v":0.0209,"t":"gd","s":10},{"i":375,"v":0.0209,"t":"gd","s":10},
{"i":376,"v":0.0212,"t":"gu","s":10},{"i":377,"v":0.022,"t":"gu","s":10},{"i":378,"v":0.025,"t":"gu","s":10},
{"i":379,"v":0.029,"t":"gu","s":10},{"i":380,"v":0.0335,"t":"gu","s":10},{"i":381,"v":0.04,"t":"gu","s":10},
{"i":382,"v":0.0482,"t":"gu","s":10},{"i":383,"v":0.054,"t":"gu","s":10},{"i":384,"v":0.0618,"t":"gu","s":10},
{"i":385,"v":0.068,"t":"gu","s":10},{"i":386,"v":0.0705,"t":"gu","s":10},{"i":387,"v":0.074,"t":"gu","s":10},
{"i":388,"v":0.0785,"t":"gu","s":10},{"i":389,"v":0.082,"t":"gu","s":10},{"i":390,"v":0.0845,"t":"gu","s":10},
{"i":391,"v":0.0848,"t":"gu","s":10},
{"i":392,"v":0.0838,"t":"gd","s":10},{"i":393,"v":0.0838,"t":"gd","s":10},{"i":394,"v":0.0838,"t":"gd","s":10},
{"i":395,"v":0.0838,"t":"gd","s":10},{"i":396,"v":0.0838,"t":"gd","s":10},{"i":397,"v":0.0838,"t":"gd","s":10},
{"i":398,"v":0.0838,"t":"gd","s":10},{"i":399,"v":0.0838,"t":"gd","s":10},{"i":400,"v":0.0838,"t":"gd","s":10},
{"i":401,"v":0.0838,"t":"gd","s":10},{"i":402,"v":0.0838,"t":"gd","s":10},{"i":403,"v":0.0838,"t":"gd","s":10},
{"i":404,"v":0.0838,"t":"gd","s":10},{"i":405,"v":0.0838,"t":"gd","s":10},{"i":406,"v":0.0838,"t":"gd","s":10},
{"i":407,"v":0.0838,"t":"gd","s":10},{"i":408,"v":0.0838,"t":"gd","s":10}
]
},
"vconcat": [
{
"width": 1910, "height": 699,
"data": {"name": "day"},
"layer": [
{"data": {"name": "gx"}, "mark": {"type": "rule", "color": "#c4c4c4", "strokeWidth": 1, "strokeDash": [4, 3]},
 "encoding": {"x": {"field": "i", "type": "quantitative", "axis": null, "scale": {"domain": [-1.125, 476.375], "nice": false, "zero": false, "padding": 0}}}},
{"data": {"name": "gy"}, "mark": {"type": "rule", "color": "#c4c4c4", "strokeWidth": 1, "strokeDash": [4, 3]},
 "encoding": {"y": {"field": "p", "type": "quantitative", "axis": null, "scale": {"domain": [1.03286, 1.06781], "nice": false, "zero": false, "padding": 0}}}},
{"mark": {"type": "rect", "color": "#000000", "opacity": 0.083},
 "encoding": {"x": {"field": "start", "type": "quantitative", "axis": null}, "x2": {"field": "end"}, "y": {"field": "h", "type": "quantitative", "axis": null}, "y2": {"field": "l"}}},
{"data": {"name": "bars"}, "mark": {"type": "rule", "color": "#008000", "strokeWidth": 1},
 "encoding": {"x": {"field": "i", "type": "quantitative", "axis": null}, "y": {"field": "l", "type": "quantitative", "axis": null}, "y2": {"field": "h"}}},
{"data": {"name": "bars"}, "mark": {"type": "tick", "orient": "horizontal", "size": 1, "thickness": 1, "xOffset": -1, "color": "#008000", "opacity": 1},
 "encoding": {"x": {"field": "i", "type": "quantitative", "axis": null}, "y": {"field": "o", "type": "quantitative", "axis": null}}},
{"data": {"name": "bars"}, "mark": {"type": "tick", "orient": "horizontal", "size": 1, "thickness": 1, "xOffset": 1, "color": "#008000", "opacity": 1},
 "encoding": {"x": {"field": "i", "type": "quantitative", "axis": null}, "y": {"field": "c", "type": "quantitative", "axis": null}}},
{"mark": {"type": "rule", "color": "#7a8798", "strokeWidth": 1},
 "encoding": {"y": {"field": "c", "type": "quantitative", "axis": null}}},
{"mark": {"type": "rule", "color": "#4682b4", "strokeWidth": 1},
 "encoding": {"x": {"datum": 413, "type": "quantitative", "axis": null}, "y": {"field": "h", "type": "quantitative", "axis": null}, "y2": {"field": "l"}}},
{"mark": {"type": "rule", "color": "#4682b4", "strokeWidth": 3},
 "encoding": {"x": {"datum": 413, "type": "quantitative", "axis": null}, "y": {"field": "o", "type": "quantitative", "axis": null}, "y2": {"field": "c"}}},
{"mark": {"type": "text", "text": "7:45", "align": "left", "baseline": "middle", "fontSize": 13, "color": "#3cb371"},
 "encoding": {"x": {"datum": 415, "type": "quantitative", "axis": null}, "y": {"datum": 1.04651, "type": "quantitative", "axis": null}}},
{"mark": {"type": "text", "text": "EURUSD,M15", "align": "left", "baseline": "middle", "fontSize": 9.5, "color": "#5a5a5a"},
 "encoding": {"x": {"datum": 0.05, "type": "quantitative", "axis": null}, "y": {"datum": 1.06741, "type": "quantitative", "axis": null}}},
{"mark": {"type": "rect", "color": "#4682b4", "stroke": "#2f6493", "strokeWidth": 1},
 "encoding": {"x": {"datum": 426.4, "type": "quantitative", "axis": null}, "x2": {"datum": 473.9}, "y": {"datum": 1.06726, "type": "quantitative", "axis": null}, "y2": {"datum": 1.06636}}},
{"mark": {"type": "text", "text": "Hide basic data", "align": "center", "baseline": "middle", "fontSize": 13, "color": "#ffffff"},
 "encoding": {"x": {"datum": 450.15, "type": "quantitative", "axis": null}, "y": {"datum": 1.06681, "type": "quantitative", "axis": null}}},
{"mark": {"type": "rect", "color": "#4682b4", "stroke": "#2f6493", "strokeWidth": 1},
 "encoding": {"x": {"datum": 426.4, "type": "quantitative", "axis": null}, "x2": {"datum": 473.9}, "y": {"datum": 1.06171, "type": "quantitative", "axis": null}, "y2": {"datum": 1.06086}}},
{"mark": {"type": "text", "text": "Hide swaps", "align": "center", "baseline": "middle", "fontSize": 13, "color": "#ffffff"},
 "encoding": {"x": {"datum": 450.15, "type": "quantitative", "axis": null}, "y": {"datum": 1.06129, "type": "quantitative", "axis": null}}},
{"mark": {"type": "rect", "color": "#4682b4", "stroke": "#2f6493", "strokeWidth": 1},
 "encoding": {"x": {"datum": 426.4, "type": "quantitative", "axis": null}, "x2": {"datum": 473.9}, "y": {"datum": 1.05891, "type": "quantitative", "axis": null}, "y2": {"datum": 1.05806}}},
{"mark": {"type": "text", "text": "Hide candle", "align": "center", "baseline": "middle", "fontSize": 13, "color": "#ffffff"},
 "encoding": {"x": {"datum": 450.15, "type": "quantitative", "axis": null}, "y": {"datum": 1.05849, "type": "quantitative", "axis": null}}},
{"mark": {"type": "rect", "color": "#4682b4", "stroke": "#2f6493", "strokeWidth": 1},
 "encoding": {"x": {"datum": 426.4, "type": "quantitative", "axis": null}, "x2": {"datum": 473.9}, "y": {"datum": 1.05796, "type": "quantitative", "axis": null}, "y2": {"datum": 1.05706}}},
{"mark": {"type": "text", "text": "Hide area", "align": "center", "baseline": "middle", "fontSize": 13, "color": "#ffffff"},
 "encoding": {"x": {"datum": 450.15, "type": "quantitative", "axis": null}, "y": {"datum": 1.05751, "type": "quantitative", "axis": null}}},
{"mark": {"type": "rect", "color": "#4682b4", "stroke": "#2f6493", "strokeWidth": 1},
 "encoding": {"x": {"datum": 426.4, "type": "quantitative", "axis": null}, "x2": {"datum": 473.9}, "y": {"datum": 1.05696, "type": "quantitative", "axis": null}, "y2": {"datum": 1.05606}}},
{"mark": {"type": "text", "text": "Hide timer", "align": "center", "baseline": "middle", "fontSize": 13, "color": "#ffffff"},
 "encoding": {"x": {"datum": 450.15, "type": "quantitative", "axis": null}, "y": {"datum": 1.05651, "type": "quantitative", "axis": null}}},
{"mark": {"type": "text", "text": "EURUSD", "align": "left", "baseline": "middle", "fontSize": 16, "color": "#e0728c"},
 "encoding": {"x": {"datum": 426.4, "type": "quantitative", "axis": null}, "y": {"datum": 1.06581, "type": "quantitative", "axis": null}}},
{"mark": {"type": "text", "text": "1.04446", "align": "right", "baseline": "middle", "fontSize": 16, "color": "#3cb371"},
 "encoding": {"x": {"datum": 473.9, "type": "quantitative", "axis": null}, "y": {"datum": 1.06581, "type": "quantitative", "axis": null}}},
{"mark": {"type": "text", "text": "range", "align": "left", "baseline": "middle", "fontSize": 13, "color": "#a9a9a9"},
 "encoding": {"x": {"datum": 426.4, "type": "quantitative", "axis": null}, "y": {"datum": 1.06491, "type": "quantitative", "axis": null}}},
{"mark": {"type": "text", "text": "66.5", "align": "right", "baseline": "middle", "fontSize": 16, "color": "#3cb371"},
 "encoding": {"x": {"datum": 473.9, "type": "quantitative", "axis": null}, "y": {"datum": 1.06491, "type": "quantitative", "axis": null}}},
{"mark": {"type": "text", "text": "change", "align": "left", "baseline": "middle", "fontSize": 13, "color": "#a9a9a9"},
 "encoding": {"x": {"datum": 426.4, "type": "quantitative", "axis": null}, "y": {"datum": 1.06401, "type": "quantitative", "axis": null}}},
{"mark": {"type": "text", "text": "31.6", "align": "right", "baseline": "middle", "fontSize": 16, "color": "#3cb371"},
 "encoding": {"x": {"datum": 473.9, "type": "quantitative", "axis": null}, "y": {"datum": 1.06401, "type": "quantitative", "axis": null}}},
{"mark": {"type": "text", "text": "distance from high", "align": "left", "baseline": "middle", "fontSize": 13, "color": "#a9a9a9"},
 "encoding": {"x": {"datum": 426.4, "type": "quantitative", "axis": null}, "y": {"datum": 1.06311, "type": "quantitative", "axis": null}}},
{"mark": {"type": "text", "text": "27.7", "align": "right", "baseline": "middle", "fontSize": 16, "color": "#3cb371"},
 "encoding": {"x": {"datum": 473.9, "type": "quantitative", "axis": null}, "y": {"datum": 1.06311, "type": "quantitative", "axis": null}}},
{"mark": {"type": "text", "text": "distance from low", "align": "left", "baseline": "middle", "fontSize": 13, "color": "#a9a9a9"},
 "encoding": {"x": {"datum": 426.4, "type": "quantitative", "axis": null}, "y": {"datum": 1.06226, "type": "quantitative", "axis": null}}},
{"mark": {"type": "text", "text": "38.8", "align": "right", "baseline": "middle", "fontSize": 16, "color": "#3cb371"},
 "encoding": {"x": {"datum": 473.9, "type": "quantitative", "axis": null}, "y": {"datum": 1.06226, "type": "quantitative", "axis": null}}},
{"mark": {"type": "text", "text": "swap short", "align": "left", "baseline": "middle", "fontSize": 13, "color": "#a9a9a9"},
 "encoding": {"x": {"datum": 426.4, "type": "quantitative", "axis": null}, "y": {"datum": 1.06031, "type": "quantitative", "axis": null}}},
{"mark": {"type": "text", "text": "-3.8", "align": "right", "baseline": "middle", "fontSize": 16, "color": "#e0728c"},
 "encoding": {"x": {"datum": 473.9, "type": "quantitative", "axis": null}, "y": {"datum": 1.06031, "type": "quantitative", "axis": null}}},
{"mark": {"type": "text", "text": "swap long", "align": "left", "baseline": "middle", "fontSize": 13, "color": "#a9a9a9"},
 "encoding": {"x": {"datum": 426.4, "type": "quantitative", "axis": null}, "y": {"datum": 1.05946, "type": "quantitative", "axis": null}}},
{"mark": {"type": "text", "text": "-0.9", "align": "right", "baseline": "middle", "fontSize": 16, "color": "#e0728c"},
 "encoding": {"x": {"datum": 473.9, "type": "quantitative", "axis": null}, "y": {"datum": 1.05946, "type": "quantitative", "axis": null}}},
{"mark": {"type": "rect", "color": "#d6d6d6", "stroke": "#9c9c9c", "strokeWidth": 1},
 "encoding": {"x": {"datum": 468.8, "type": "quantitative", "axis": null}, "x2": {"datum": 472.6}, "y": {"datum": 1.03431, "type": "quantitative", "axis": null}, "y2": {"datum": 1.03391}}},
{"mark": {"type": "text", "text": "!", "align": "center", "baseline": "middle", "fontSize": 9, "fontWeight": "bold", "color": "#8b2252"},
 "encoding": {"x": {"datum": 470.7, "type": "quantitative", "axis": null}, "y": {"datum": 1.03411, "type": "quantitative", "axis": null}}}
]
},
{
"width": 1910, "height": 224,
"data": {"name": "ind"},
"resolve": {"scale": {"color": "independent"}},
"layer": [
{"data": {"name": "gx"}, "mark": {"type": "rule", "color": "#c4c4c4", "strokeWidth": 1, "strokeDash": [4, 3]},
 "encoding": {"x": {"field": "i", "type": "quantitative", "axis": null, "scale": {"domain": [-1.125, 476.375], "nice": false, "zero": false, "padding": 0}}}},
{"data": {"name": "gz"}, "mark": {"type": "rule", "color": "#c4c4c4", "strokeWidth": 1, "strokeDash": [4, 3]},
 "encoding": {"y": {"field": "v", "type": "quantitative", "axis": null, "scale": {"domain": [-0.02041, 0.21414], "nice": false, "zero": false, "padding": 0}}}},
{"mark": {"type": "bar", "width": 4, "xOffset": 0.5},
 "encoding": {
  "x": {"field": "i", "type": "quantitative", "axis": null},
  "y": {"field": "v", "type": "quantitative", "stack": null, "axis": null},
  "y2": {"datum": 0},
  "color": {"field": "t", "type": "nominal", "scale": {"domain": ["gu", "gd", "ru", "rd"], "range": ["#7fe37f", "#32cd32", "#f0a8a8", "#eba3a3"]}, "legend": null}
 }},
{"mark": {"type": "bar", "width": 2, "xOffset": 0.5},
 "encoding": {
  "x": {"field": "i", "type": "quantitative", "axis": null},
  "y": {"field": "v", "type": "quantitative", "stack": null, "axis": null},
  "y2": {"datum": 0},
  "color": {"field": "t", "type": "nominal", "scale": {"domain": ["gu", "gd", "ru", "rd"], "range": ["#45d545", "#007a00", "#ff0000", "#8b0000"]}, "legend": null}
 }},
{"mark": {"type": "line", "strokeWidth": 2, "xOffset": 0.5},
 "encoding": {
  "x": {"field": "i", "type": "quantitative", "axis": null},
  "y": {"field": "v", "type": "quantitative", "axis": null},
  "color": {"field": "s", "type": "nominal", "scale": {"domain": [0,1,2,3,4,5,6,7,8,9,10], "range": ["#32cd32","#ff0000","#32cd32","#ff0000","#32cd32","#ff0000","#32cd32","#ff0000","#32cd32","#ff0000","#32cd32"]}, "legend": null}
 }},
{"data": {"values": [{}]},
 "mark": {"type": "text", "text": "15 minutes AdxVma trend (10.0,10) 0.083757", "align": "left", "baseline": "middle", "fontSize": 9.5, "color": "#5a5a5a"},
 "encoding": {"x": {"datum": 0.05, "type": "quantitative", "axis": null}, "y": {"datum": 0.2031, "type": "quantitative", "axis": null}}}
]
}
]
}
